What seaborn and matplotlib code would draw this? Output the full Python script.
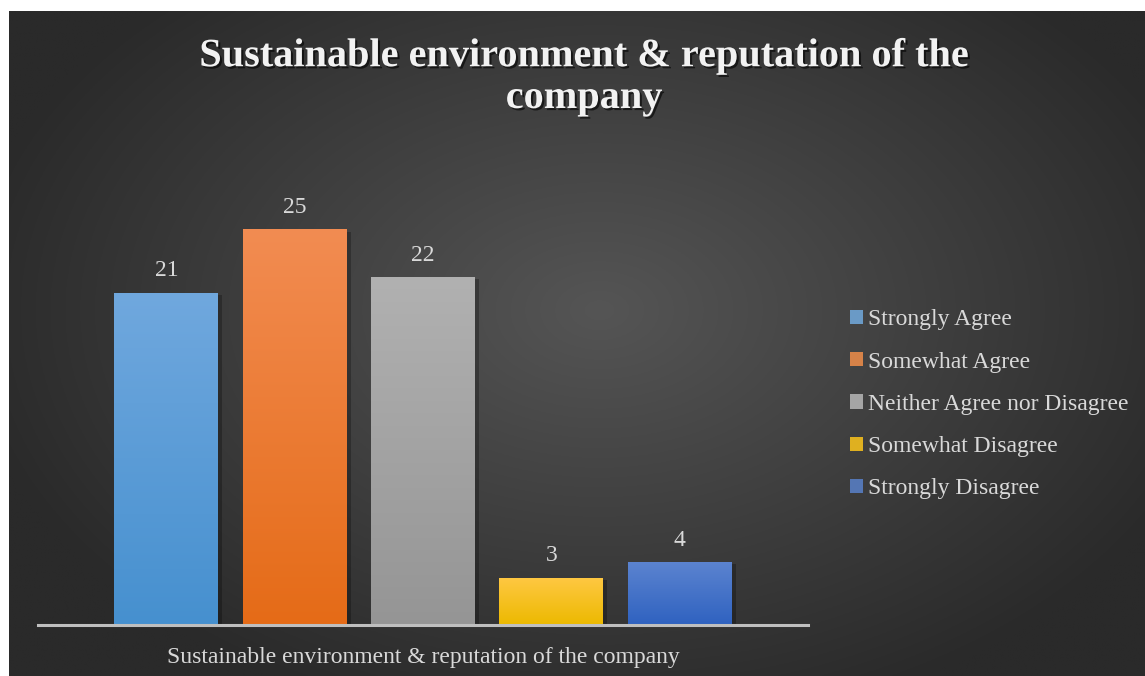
import numpy as np
import pandas as pd
import matplotlib
matplotlib.use("Agg")
import matplotlib.pyplot as plt
import matplotlib.patheffects as pe
from matplotlib.colors import LinearSegmentedColormap, to_rgb
import seaborn as sns

# Survey responses
categories = ["Strongly Agree", "Somewhat Agree", "Neither Agree nor Disagree",
              "Somewhat Disagree", "Strongly Disagree"]
values = [21, 25, 22, 3, 4]
group_label = "Sustainable environment & reputation of the company"
title = "Sustainable environment & reputation of the\ncompany"

# top / bottom shades of each bar gradient
top_colors = ["#70a8de", "#f28c52", "#b1b1b1", "#ffc843", "#5c84d0"]
bottom_colors = ["#4690cf", "#e56b17", "#959595", "#ecb900", "#2f62c0"]
mid_colors = ["#5b9bd5", "#ed7d31", "#a5a5a5", "#ffc000", "#4472c4"]

sns.set_theme(style="white")
plt.rcParams["font.family"] = ["Liberation Serif", "DejaVu Serif"]

W, H = 1145, 676
fig = plt.figure(figsize=(W / 100, H / 100), dpi=100, facecolor="white")

# dark radial backdrop (panel starts a few px in from the top-left)
bg = fig.add_axes([9 / W, 0, 1 - 9 / W, 1 - 11 / H])
bg.set_axis_off()
yy, xx = np.mgrid[0:1:400j, 0:1:700j]
r = np.sqrt(((xx - 0.52) / 0.75) ** 2 + ((yy - 0.45) / 0.85) ** 2)
r = np.clip(r / 0.75, 0, 1)
c_in, c_out = np.array(to_rgb("#555555")), np.array(to_rgb("#2a2a2a"))
img = c_in[None, None, :] * (1 - r[..., None]) + c_out[None, None, :] * r[..., None]
bg.imshow(img, extent=[0, 1, 0, 1], aspect="auto", origin="upper")
bg.set_xlim(0, 1)
bg.set_ylim(0, 1)

# plot area
ax = fig.add_axes([38 / W, (H - 625) / H, (808 - 38) / W, (625 - 150) / H])
ax.patch.set_alpha(0)
df = pd.DataFrame({"response": categories, "count": values})
sns.barplot(data=df, x="response", y="count", hue="response",
            palette=mid_colors, width=0.81, ax=ax, legend=True,
            order=categories, hue_order=categories, linewidth=0, edgecolor="none")

# gradient fill clipped to each bar, with a soft drop shadow
for patch in list(ax.patches):
    x0, y0 = patch.get_x(), patch.get_y()
    w, h = patch.get_width(), patch.get_height()
    if h <= 0:
        continue
    i = int(round(x0 + w / 2))
    cmap = LinearSegmentedColormap.from_list("g", [bottom_colors[i], top_colors[i]])
    grad = np.linspace(1, 0, 256)[:, None]
    patch.set_path_effects([pe.SimplePatchShadow(offset=(3, -2), shadow_rgbFace="black", alpha=0.25),
                            pe.Normal()])
    im = ax.imshow(grad, cmap=cmap, vmin=0, vmax=1, extent=[x0, x0 + w, y0, y0 + h],
                   aspect="auto", zorder=patch.get_zorder() + 0.1, origin="upper")
    im.set_clip_path(patch)

ax.set_xlim(-1, 5)
ax.set_ylim(0, 30)

for cont in ax.containers:
    ax.bar_label(cont, padding=8, fontsize=17, color="#d9d9d9")

# axis styling
for s in ["top", "right", "left"]:
    ax.spines[s].set_visible(False)
ax.spines["bottom"].set_color("#bfbfbf")
ax.spines["bottom"].set_linewidth(2.2)
ax.spines["bottom"].set_zorder(5)
ax.set_yticks([])
ax.set_xticks([2])
ax.set_xticklabels([group_label], fontsize=17, color="#d9d9d9")
ax.tick_params(axis="x", length=0, pad=16)
ax.set_xlabel("")
ax.set_ylabel("")

# legend
leg = ax.legend(loc="upper left", bbox_to_anchor=(841 / W, 1 - 300 / H),
                bbox_transform=fig.transFigure, frameon=False, fontsize=17,
                labelcolor="#d9d9d9", handlelength=0.55, handleheight=0.55,
                handletextpad=0.2, labelspacing=0.9, borderaxespad=0)
for hnd in leg.legend_handles:
    hnd.set_edgecolor("none")

fig.text(584 / W, 1 - 108 / H, title, ha="center", va="baseline", fontsize=29,
         fontweight="bold", color="#f2f2f2", linespacing=1.17,
         path_effects=[pe.withSimplePatchShadow(offset=(1.5, -1.5), shadow_rgbFace="black", alpha=0.6)])

fig.savefig("out.png", dpi=100, facecolor="white")
